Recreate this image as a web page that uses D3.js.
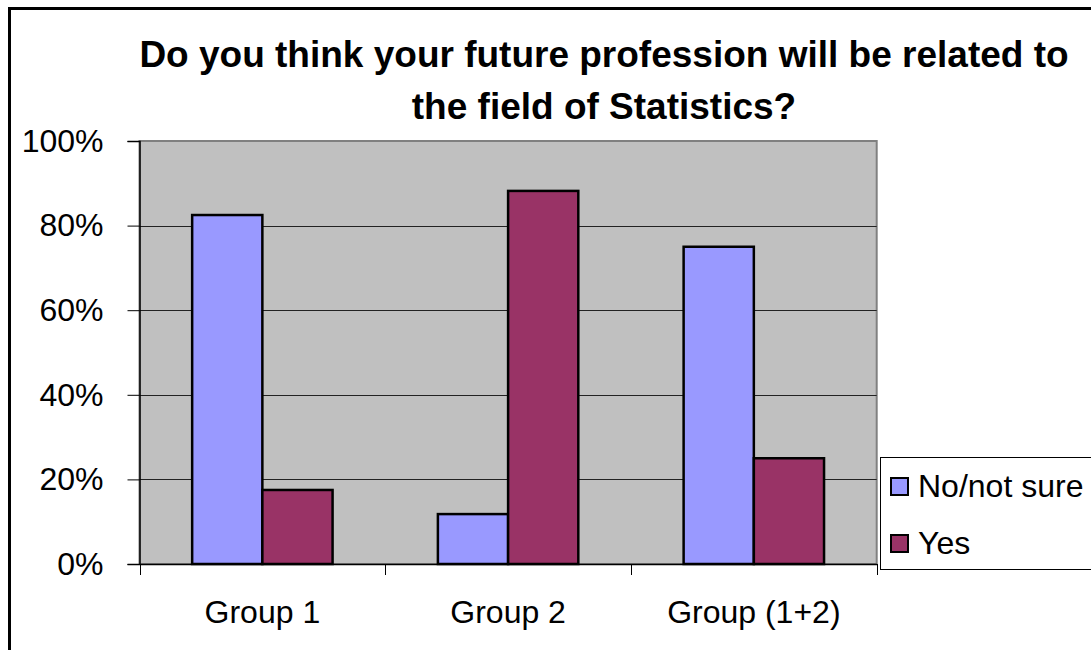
<!DOCTYPE html>
<html>
<head>
<meta charset="utf-8">
<script src="https://cdn.jsdelivr.net/npm/d3@7"></script>
<style>
  body { margin: 0; background: #fff; }
  svg { display: block; font-family: Arial, "Liberation Sans", sans-serif; }
</style>
</head>
<body>
<div class="chart"></div>
<script>
// data
var groups = ["Group 1", "Group 2", "Group (1+2)"];
var seriesNames = ["No/not sure", "Yes"];
var noNotSure = [0.825, 0.118, 0.75];
var yes = [0.175, 0.882, 0.25];
var seriesColors = ["#9999FF", "#993366"];
var yTicks = [0, 0.2, 0.4, 0.6, 0.8, 1];
var titleLines = ["Do you think your future profession will be related to", "the field of Statistics?"];

var svgWidth = 1091,
    svgHeight = 650;

// plot area
var plot = { left: 139.5, right: 876.7, top: 141, bottom: 564 };

var svg = d3.select(".chart")
    .append("svg")
    .attr("width", svgWidth)
    .attr("height", svgHeight);

// outer chart frame (runs off the right and bottom of the picture)
svg.append("path")
    .attr("d", "M9.5,650 L9.5,8.5 L1091,8.5")
    .attr("fill", "none")
    .attr("stroke", "#000")
    .attr("stroke-width", 3);

// title
svg.append("g")
    .selectAll("text")
    .data(titleLines)
    .enter().append("text")
    .attr("x", 604)
    .attr("y", function(d, i) { return 67 + i * 52; })
    .attr("text-anchor", "middle")
    .attr("font-weight", "bold")
    .attr("font-size", 37)
    .text(function(d) { return d; });

var x0 = d3.scaleBand()
    .domain(groups)
    .range([plot.left, plot.right]);

// excel style gap width 150%
var barW = x0.bandwidth() / 3.5;
var x1 = d3.scaleBand()
    .domain(seriesNames)
    .range([0.75 * barW, 2.75 * barW]);

var y = d3.scaleLinear()
    .domain([0, 1])
    .range([plot.bottom, plot.top]);

// plot background
svg.append("rect")
    .attr("x", plot.left)
    .attr("y", plot.top)
    .attr("width", plot.right - plot.left)
    .attr("height", plot.bottom - plot.top)
    .attr("fill", "#C0C0C0")
    .attr("stroke", "#808080")
    .attr("stroke-width", 2);

// gridlines
svg.append("g")
    .selectAll("line")
    .data(yTicks.slice(1, -1))
    .enter().append("line")
    .attr("x1", plot.left)
    .attr("x2", plot.right)
    .attr("y1", function(d) { return Math.round(y(d)) + 0.5; })
    .attr("y2", function(d) { return Math.round(y(d)) + 0.5; })
    .attr("stroke", "#222")
    .attr("stroke-width", 1.2);

// bars
var rows = groups.map(function(g, i) {
    return [
        { group: g, key: seriesNames[0], value: noNotSure[i], color: seriesColors[0] },
        { group: g, key: seriesNames[1], value: yes[i], color: seriesColors[1] }
    ];
});

svg.append("g")
    .selectAll("g")
    .data(rows)
    .enter().append("g")
    .attr("transform", function(d) { return "translate(" + x0(d[0].group) + ",0)"; })
    .selectAll("rect")
    .data(function(d) { return d; })
    .enter().append("rect")
    .attr("x", function(d) { return x1(d.key); })
    .attr("y", function(d) { return y(d.value); })
    .attr("width", x1.bandwidth())
    .attr("height", function(d) { return y(0) - y(d.value); })
    .attr("fill", function(d) { return d.color; })
    .attr("stroke", "#000")
    .attr("stroke-width", 2.5);

// y axis
var yAxis = d3.axisLeft(y)
    .tickValues(yTicks)
    .tickFormat(d3.format(".0%"))
    .tickSize(12)
    .tickPadding(24);

var gy = svg.append("g")
    .attr("transform", "translate(" + plot.left + ",0)")
    .call(yAxis);
gy.select(".domain").attr("stroke", "#000").attr("stroke-width", 1.5);
gy.selectAll(".tick line").attr("stroke", "#000").attr("stroke-width", 1);
gy.selectAll(".tick text")
    .attr("font-size", 32)
    .attr("font-family", "Arial, 'Liberation Sans', sans-serif")
    .attr("fill", "#000");

// x axis with ticks between categories
var xAxis = d3.axisBottom(x0)
    .tickSize(0)
    .tickPadding(36);

var gx = svg.append("g")
    .attr("transform", "translate(0," + plot.bottom + ")")
    .call(xAxis);
gx.select(".domain").attr("stroke", "#000").attr("stroke-width", 1.5);
gx.selectAll(".tick text")
    .attr("font-size", 32)
    .attr("font-family", "Arial, 'Liberation Sans', sans-serif")
    .attr("fill", "#000");

var boundaries = groups.map(function(g) { return x0(g); }).concat([plot.right]);
gx.selectAll(".sep")
    .data(boundaries)
    .enter().append("line")
    .attr("class", "sep")
    .attr("x1", function(d) { return Math.round(d) + 0.5; })
    .attr("x2", function(d) { return Math.round(d) + 0.5; })
    .attr("y1", 0)
    .attr("y2", 11)
    .attr("stroke", "#000");

// legend
var legend = svg.append("g")
    .attr("transform", "translate(880,457)");

legend.append("rect")
    .attr("x", 0.5)
    .attr("y", 0.5)
    .attr("width", 260)
    .attr("height", 112)
    .attr("fill", "#fff")
    .attr("stroke", "#000")
    .attr("stroke-width", 1);

var item = legend.selectAll(".item")
    .data(seriesNames)
    .enter().append("g")
    .attr("class", "item")
    .attr("transform", function(d, i) { return "translate(0," + (i * 57) + ")"; });

item.append("rect")
    .attr("x", 11)
    .attr("y", 21)
    .attr("width", 17)
    .attr("height", 17)
    .attr("fill", function(d, i) { return seriesColors[i]; })
    .attr("stroke", "#000")
    .attr("stroke-width", 2);

item.append("text")
    .attr("x", 38)
    .attr("y", 40)
    .attr("font-size", 32)
    .text(function(d) { return d; });
</script>
</body>
</html>
